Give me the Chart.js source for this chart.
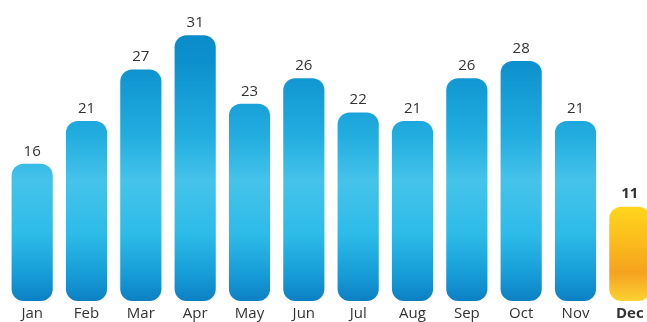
<!DOCTYPE html>
<html>
<head>
<meta charset="utf-8">
<script src="https://cdn.jsdelivr.net/npm/chart.js@4/dist/chart.umd.min.js"></script>
<style>
  html, body { margin: 0; padding: 0; background: #fff; overflow: hidden; }
  #box { width: 657px; height: 327px; }
</style>
</head>
<body>
<div id="box"><canvas id="grafico"></canvas></div>
<script>
const meses = ["Jan", "Feb", "Mar", "Apr", "May", "Jun", "Jul", "Aug", "Sep", "Oct", "Nov", "Dec"];
const valores = [16, 21, 27, 31, 23, 26, 22, 21, 26, 28, 21, 11];
const destacado = 11; // indice del mes resaltado

const grafico = document.querySelector("#grafico");

const RellenoBarra = (ctx) => {
  const chart = ctx.chart;
  const area = chart.chartArea;
  if (!area || !isFinite(area.top) || !isFinite(area.bottom)) return "#2ab3e3";
  const c = chart.ctx;
  if (ctx.dataIndex === destacado) {
    let top = chart.scales.y ? chart.scales.y.getPixelForValue(valores[destacado]) : area.top;
    if (!isFinite(top)) top = area.top;
    const g = c.createLinearGradient(0, top, 0, area.bottom);
    g.addColorStop(0, "#ffd51c");
    g.addColorStop(0.35, "#fbbd1c");
    g.addColorStop(0.7, "#f5a21f");
    g.addColorStop(1, "#fcd233");
    return g;
  }
  const g = c.createLinearGradient(0, area.top, 0, area.bottom);
  g.addColorStop(0, "#0a86c6");
  g.addColorStop(0.2, "#0c90cd");
  g.addColorStop(0.45, "#22ade0");
  g.addColorStop(0.6, "#45c3ea");
  g.addColorStop(0.78, "#2cbbe8");
  g.addColorStop(0.92, "#159ad6");
  g.addColorStop(1, "#0c7fc2");
  return g;
};

const Etiquetas = {
  id: "etiquetas",
  afterDatasetsDraw(chart) {
    const c = chart.ctx;
    const meta = chart.getDatasetMeta(0);
    c.save();
    c.textAlign = "center";
    c.textBaseline = "bottom";
    c.fillStyle = "#333333";
    meta.data.forEach((bar, i) => {
      c.font = (i === destacado ? "bold " : "") + "15px 'Open Sans', sans-serif";
      c.fillText(valores[i], bar.x, bar.y - 5);
    });
    c.restore();
  }
};

const graf = new Chart(grafico, {
  type: "bar",
  data: {
    labels: meses,
    datasets: [
      {
        data: valores,
        backgroundColor: RellenoBarra,
        borderRadius: 12,
        borderSkipped: false,
        categoryPercentage: 1,
        barPercentage: 0.758,
      },
    ],
  },
  options: {
    responsive: true,
    maintainAspectRatio: false,
    animation: false,
    layout: { padding: { top: 1, left: 5, right: 0, bottom: 0 } },
    plugins: {
      legend: { display: false },
      tooltip: { enabled: false },
    },
    scales: {
      x: {
        grid: { display: false, drawTicks: false, tickLength: 0 },
        border: { display: false },
        ticks: {
          padding: 4,
          color: "#333333",
          font: (ctx) => ({
            family: "'Open Sans', sans-serif",
            size: 15,
            weight: ctx.index === destacado ? "bold" : "normal",
          }),
        },
      },
      y: {
        display: false,
        min: 0,
        max: 35,
      },
    },
  },
  plugins: [Etiquetas],
});
</script>
</body>
</html>
